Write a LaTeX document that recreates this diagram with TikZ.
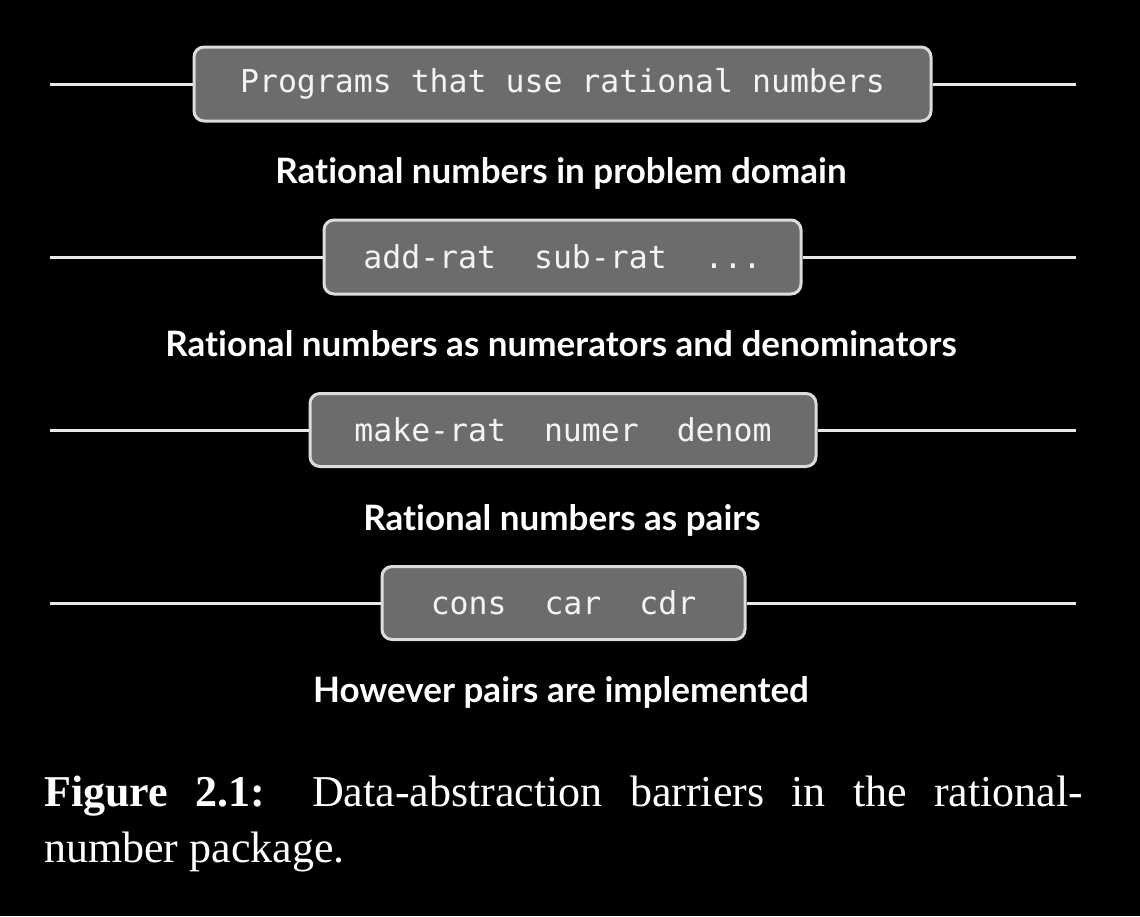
\documentclass[tikz,border=0pt]{standalone}
\usepackage{fontspec}
\setmainfont{Liberation Serif}
\newfontfamily\lblfont[Ligatures=NoCommon]{Lato}
\newfontfamily\monofont{DejaVu Sans Mono}
\begin{document}
\begin{tikzpicture}[x=1pt,y=-1pt,
  barrier/.style={draw=boxedge, line width=3pt, fill=boxfill, rounded corners=10pt,
    inner sep=0pt, text=boxtext, font=\monofont\fontsize{31.5}{36}\selectfont},
  wire/.style={draw=wirecol, line width=3pt},
  level/.style={anchor=base, text=white, font=\lblfont\bfseries\fontsize{35}{40}\selectfont}]
\definecolor{boxfill}{HTML}{6C6C6C}
\definecolor{boxedge}{HTML}{DCDCDC}
\definecolor{boxtext}{HTML}{F4F4F4}
\definecolor{wirecol}{HTML}{E8E8E8}
\fill[black] (0,0) rectangle (1140,916);
\useasboundingbox (0,0) rectangle (1140,916);

\node[barrier, minimum width=737pt, minimum height=74pt] (b1) at (562.5,84) {Programs that use rational numbers};
\node[barrier, minimum width=477pt, minimum height=74pt] (b2) at (562.5,257) {add-rat\ \ sub-rat\ \ ...};
\node[barrier, minimum width=506pt, minimum height=73pt] (b3) at (563,430) {make-rat\ \ numer\ \ denom};
\node[barrier, minimum width=363pt, minimum height=73pt] (b4) at (563.5,603) {cons\ \ car\ \ cdr};

\foreach \i/\y in {1/84,2/257,3/430,4/603}{
  \coordinate (l\i) at (50,\y);
  \coordinate (r\i) at (1076,\y);
  \draw[wire] (l\i) -- (b\i.west);
  \draw[wire] (b\i.east) -- (r\i);
}

\node[level] (t1) at (561,183) {Rational numbers in problem domain};
\node[level] (t2) at (561,356) {Rational numbers as numerators and denominators};
\node[level] (t3) at (562,530) {Rational numbers as pairs};
\node[level] (t4) at (561,702) {However pairs are implemented};

\node[anchor=base west, inner sep=0pt, text=white, font=\fontsize{44}{50}\selectfont] (c1) at (44,806)
  {\makebox[1039pt][s]{\textbf{Figure 2.1:} Data-abstraction barriers in the rational-}};
\node[anchor=base west, inner sep=0pt, text=white, font=\fontsize{44}{50}\selectfont] (c2) at (44,862)
  {number package.};
\end{tikzpicture}
\end{document}
